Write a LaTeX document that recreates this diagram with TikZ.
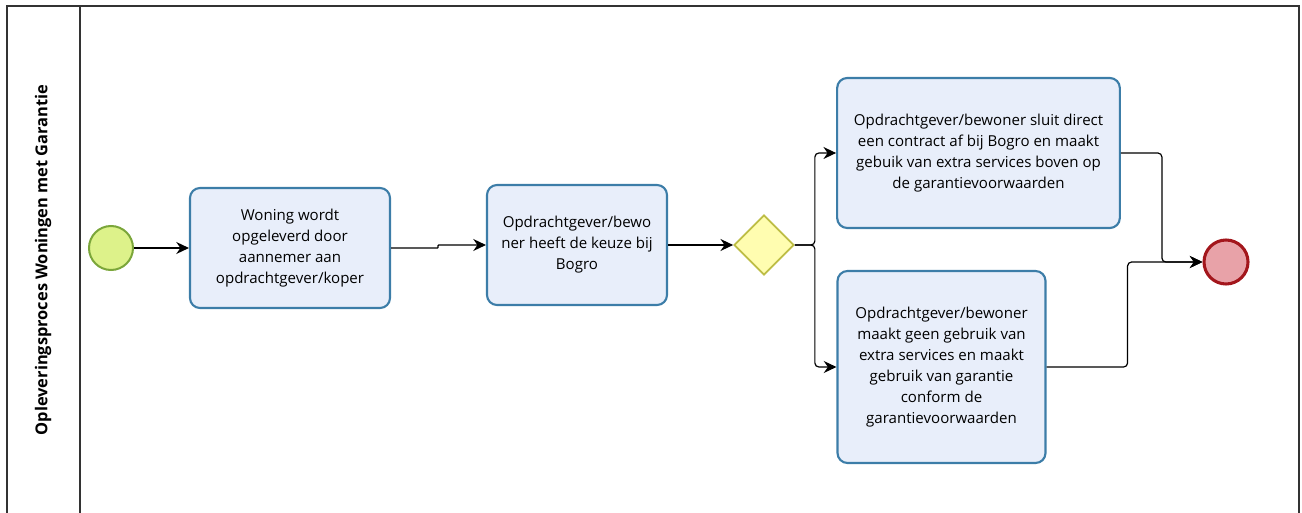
\documentclass[tikz,border=0pt]{standalone}
\usepackage{fontspec}
\setmainfont{Open Sans}
\usetikzlibrary{arrows.meta, shapes.geometric}
\definecolor{taskline}{HTML}{3C7DA8}
\definecolor{taskbg}{HTML}{E8EEFA}
\definecolor{startline}{HTML}{7BA63A}
\definecolor{startbg}{HTML}{DDF28A}
\definecolor{gateline}{HTML}{BDBD45}
\definecolor{gatebg}{HTML}{FFFDB0}
\definecolor{endline}{HTML}{A3161C}
\definecolor{endbg}{HTML}{E8A2A8}
\definecolor{frameline}{HTML}{333333}

\begin{document}
\begin{tikzpicture}[
    x=0.75pt, y=-0.75pt,
    font=\fontsize{11.3}{15.8}\selectfont,
    task/.style={draw=taskline, fill=taskbg, line width=1.6pt, rounded corners=7.5pt, align=center, inner sep=2pt},
    startev/.style={circle, draw=startline, fill=startbg, line width=1.5pt, minimum size=33pt, inner sep=0pt},
    endev/.style={circle, draw=endline, fill=endbg, line width=2.3pt, minimum size=33pt, inner sep=0pt},
    gate/.style={diamond, aspect=1, draw=gateline, fill=gatebg, line width=1.3pt, minimum size=45pt, inner sep=0pt},
    ar/.style={-{Stealth[length=9.5pt, width=9pt]}, black, line width=0.9pt, rounded corners=3pt}
  ]
    \useasboundingbox (0,0) rectangle (1302,513);
    % pool and lane header
    \draw[frameline, line width=1.3pt] (7,6) rectangle (1299,530);
    \draw[frameline, line width=1.3pt] (80,6) -- (80,530);
    \node[rotate=90, font=\fontsize{12.3}{14}\selectfont\bfseries] (title) at (43,260) {Opleveringsproces Woningen met Garantie};

    \node[startev] (start) at (111,248) {};
    \node[task, minimum width=150pt, minimum height=90pt] (t1) at (290,248)
      {Woning wordt\\opgeleverd door\\aannemer aan\\opdrachtgever/koper};
    \node[task, minimum width=135pt, minimum height=90pt] (t2) at (577,245)
      {Opdrachtgever/bewo\\ner heeft de keuze bij\\Bogro};
    \node[gate] (gw) at (764,245) {};
    \node[task, minimum width=212pt, minimum height=112.5pt] (t3) at (978.5,153)
      {Opdrachtgever/bewoner sluit direct\\een contract af bij Bogro en maakt\\gebuik van extra services boven op\\de garantievoorwaarden};
    \node[task, minimum width=156pt, minimum height=144pt] (t4) at (941.5,367)
      {Opdrachtgever/bewoner\\maakt geen gebruik van\\extra services en maakt\\gebruik van garantie\\conform de\\garantievoorwaarden};
    \node[endev] (end) at (1226,262) {};

    \draw[ar, rounded corners=0.5pt] (start) -- (t1);
    \draw[ar, rounded corners=0.5pt] (t1.east) -- ++(47,0) |- (t2.west);
    \draw[ar] (t2) -- (gw);
    \draw[ar] (gw.east) -- ++(20,0) |- (t3.west);
    \draw[ar] (gw.east) -- ++(20,0) |- (t4.west);
    \draw[ar] (t3.east) -- ++(41,0) |- (end.west);
    \draw[ar] (t4.east) -- ++(81,0) |- (end.west);
  \end{tikzpicture}
\end{document}
